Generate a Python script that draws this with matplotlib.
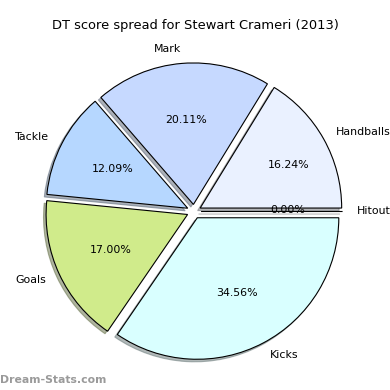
import matplotlib
matplotlib.use('Agg')
import matplotlib.pyplot as plt

# DT score spread, in percent
labels = ['Handballs', 'Mark', 'Tackle', 'Goals', 'Kicks', 'Hitout']
values = [16.24, 20.11, 12.09, 17.00, 34.56, 0.00]
colors = ['#eaf1ff', '#c6d9ff', '#b6d7ff', '#d0eb8b', '#d9ffff', '#ffffff']
titulo = 'DT score spread for Stewart Crameri (2013)'

fig = plt.figure(figsize=(3.9, 3.9), dpi=100)

cx, cy, r = 194 / 390, 1 - 211.5 / 390, 141.5 / 390
ax = fig.add_axes([cx - r, cy - r, 2 * r, 2 * r])

wedges, texts, autotexts = ax.pie(
    values, labels=labels, colors=colors, explode=[0.05] * len(values),
    autopct='%.2f%%', shadow={'ox': -0.013, 'oy': -0.013, 'shade': 0.55},
    startangle=0, counterclock=True,
    wedgeprops={'edgecolor': 'black', 'linewidth': 0.8},
    textprops={'fontsize': 7.9})

for t in texts:
    t.set_clip_on(False)

# the two right-hand percentages sit further out in the original
autotexts[0].set_position((0.668, 0.329))
autotexts[5].set_position((0.665, 0.01))

ax.set_xlim(-1, 1)
ax.set_ylim(-1, 1)
ax.set_aspect('equal')
ax.set_axis_off()

fig.text(0.5, 1 - 25 / 390, titulo, ha='center', va='center', fontsize=9.4)
fig.text(0.0, 1 - 380 / 390, 'Dream-Stats.com', ha='left', va='center',
         fontsize=7.8, color='#9a9a9a', fontweight='bold')

fig.savefig('out.png')
